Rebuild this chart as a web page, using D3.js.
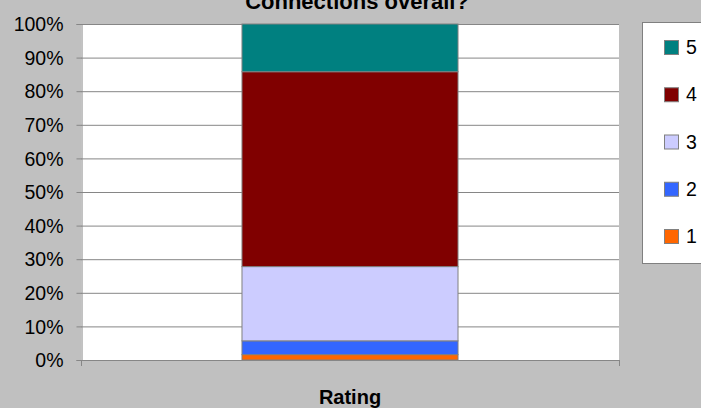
<!DOCTYPE html>
<html>
<head>
<meta charset="utf-8">
<script src="https://cdn.jsdelivr.net/npm/d3@7"></script>
<style>
  html, body { margin: 0; padding: 0; background: #c0c0c0; }
  svg { display: block; font-family: "Liberation Sans", Arial, sans-serif; }
</style>
</head>
<body>
<svg id="chart" width="701" height="408"></svg>
<script>
// ratings, stacked bottom (1) to top (5)
const ratings = ["1", "2", "3", "4", "5"];
const ratingShares = [1.6, 4.1, 22.1, 58.0, 14.2]; // percent
const ratingColors = ["#ff6600", "#3366ff", "#ccccff", "#800000", "#008080"];
const categories = ["Rating"];
const yTicks = [0, 10, 20, 30, 40, 50, 60, 70, 80, 90, 100];

const chartTitle = "Connections overall?";

function drawChart() {
  const svg = d3.select("#chart");
  const plot = { left: 81, right: 619, top: 24, bottom: 360 };

  const x = d3.scaleBand()
    .domain(categories)
    .range([plot.left, plot.right])
    .padding(0.427);
  const y = d3.scaleLinear()
    .domain([0, 100])
    .range([plot.bottom, plot.top]);

  // plot area
  svg.append("rect")
    .attr("x", plot.left)
    .attr("y", plot.top)
    .attr("width", plot.right - plot.left)
    .attr("height", plot.bottom - plot.top)
    .attr("fill", "#fff");

  // gridlines
  svg.append("g")
    .selectAll("line")
    .data(yTicks.filter(t => t > 0))
    .enter()
    .append("line")
    .attr("x1", plot.left)
    .attr("x2", plot.right)
    .attr("y1", d => y(d) + 0.5)
    .attr("y2", d => y(d) + 0.5)
    .attr("stroke", "#868686")
    .attr("stroke-width", 1);

  // stacked bar
  const row = { cat: categories[0] };
  ratings.forEach((r, i) => { row[r] = ratingShares[i]; });
  const series = d3.stack().keys(ratings)([row]);

  svg.append("g")
    .selectAll("rect")
    .data(series)
    .enter()
    .append("rect")
    .attr("x", x(categories[0]))
    .attr("width", x.bandwidth())
    .attr("y", d => y(d[0][1]))
    .attr("height", d => y(d[0][0]) - y(d[0][1]))
    .attr("fill", (d, i) => ratingColors[i])
    .attr("stroke", "#808080")
    .attr("stroke-width", 1);

  // y axis
  const yAxis = svg.append("g")
    .attr("transform", `translate(${plot.left + 0.5},0)`)
    .call(d3.axisLeft(y).tickValues(yTicks).tickFormat(d => d + "%").tickSize(5).tickPadding(13));
  yAxis.select(".domain").attr("stroke", "#868686");
  yAxis.selectAll(".tick line").attr("stroke", "#868686");
  yAxis.selectAll(".tick text")
    .attr("fill", "#000")
    .style("font-size", "19.5px")
    .attr("dy", "0.34em");

  // x axis line with end ticks
  svg.append("line")
    .attr("x1", plot.left).attr("x2", plot.right + 1)
    .attr("y1", plot.bottom + 0.5).attr("y2", plot.bottom + 0.5)
    .attr("stroke", "#868686");
  svg.append("g")
    .selectAll("line")
    .data([plot.left, plot.right])
    .enter()
    .append("line")
    .attr("x1", d => d + 0.5).attr("x2", d => d + 0.5)
    .attr("y1", plot.bottom).attr("y2", plot.bottom + 6)
    .attr("stroke", "#868686");

  // title, clipped at top like the original
  svg.append("text")
    .attr("x", 357)
    .attr("y", 9)
    .attr("text-anchor", "middle")
    .style("font-weight", "bold")
    .style("font-size", "22px")
    .text(chartTitle);

  svg.append("text")
    .attr("x", 350)
    .attr("y", 404)
    .attr("text-anchor", "middle")
    .style("font-weight", "bold")
    .style("font-size", "20px")
    .text(categories[0]);

  // legend
  const legend = svg.append("g");
  legend.append("rect")
    .attr("x", 642.5).attr("y", 22.5)
    .attr("width", 80).attr("height", 241)
    .attr("fill", "#fff")
    .attr("stroke", "#808080");

  const legendY = d3.scalePoint()
    .domain(ratings.slice().reverse())
    .range([47, 236]);

  const items = legend.selectAll("g.item")
    .data(ratings)
    .enter()
    .append("g")
    .attr("class", "item")
    .attr("transform", d => `translate(0,${legendY(d)})`);
  items.append("rect")
    .attr("x", 664.5).attr("y", -6.5)
    .attr("width", 14).attr("height", 14)
    .attr("fill", (d, i) => ratingColors[i])
    .attr("stroke", "#808080");
  items.append("text")
    .attr("x", 686)
    .attr("y", 0)
    .attr("dy", "0.36em")
    .style("font-size", "19.5px")
    .text(d => d);
}

window.addEventListener("DOMContentLoaded", drawChart);
</script>
</body>
</html>
